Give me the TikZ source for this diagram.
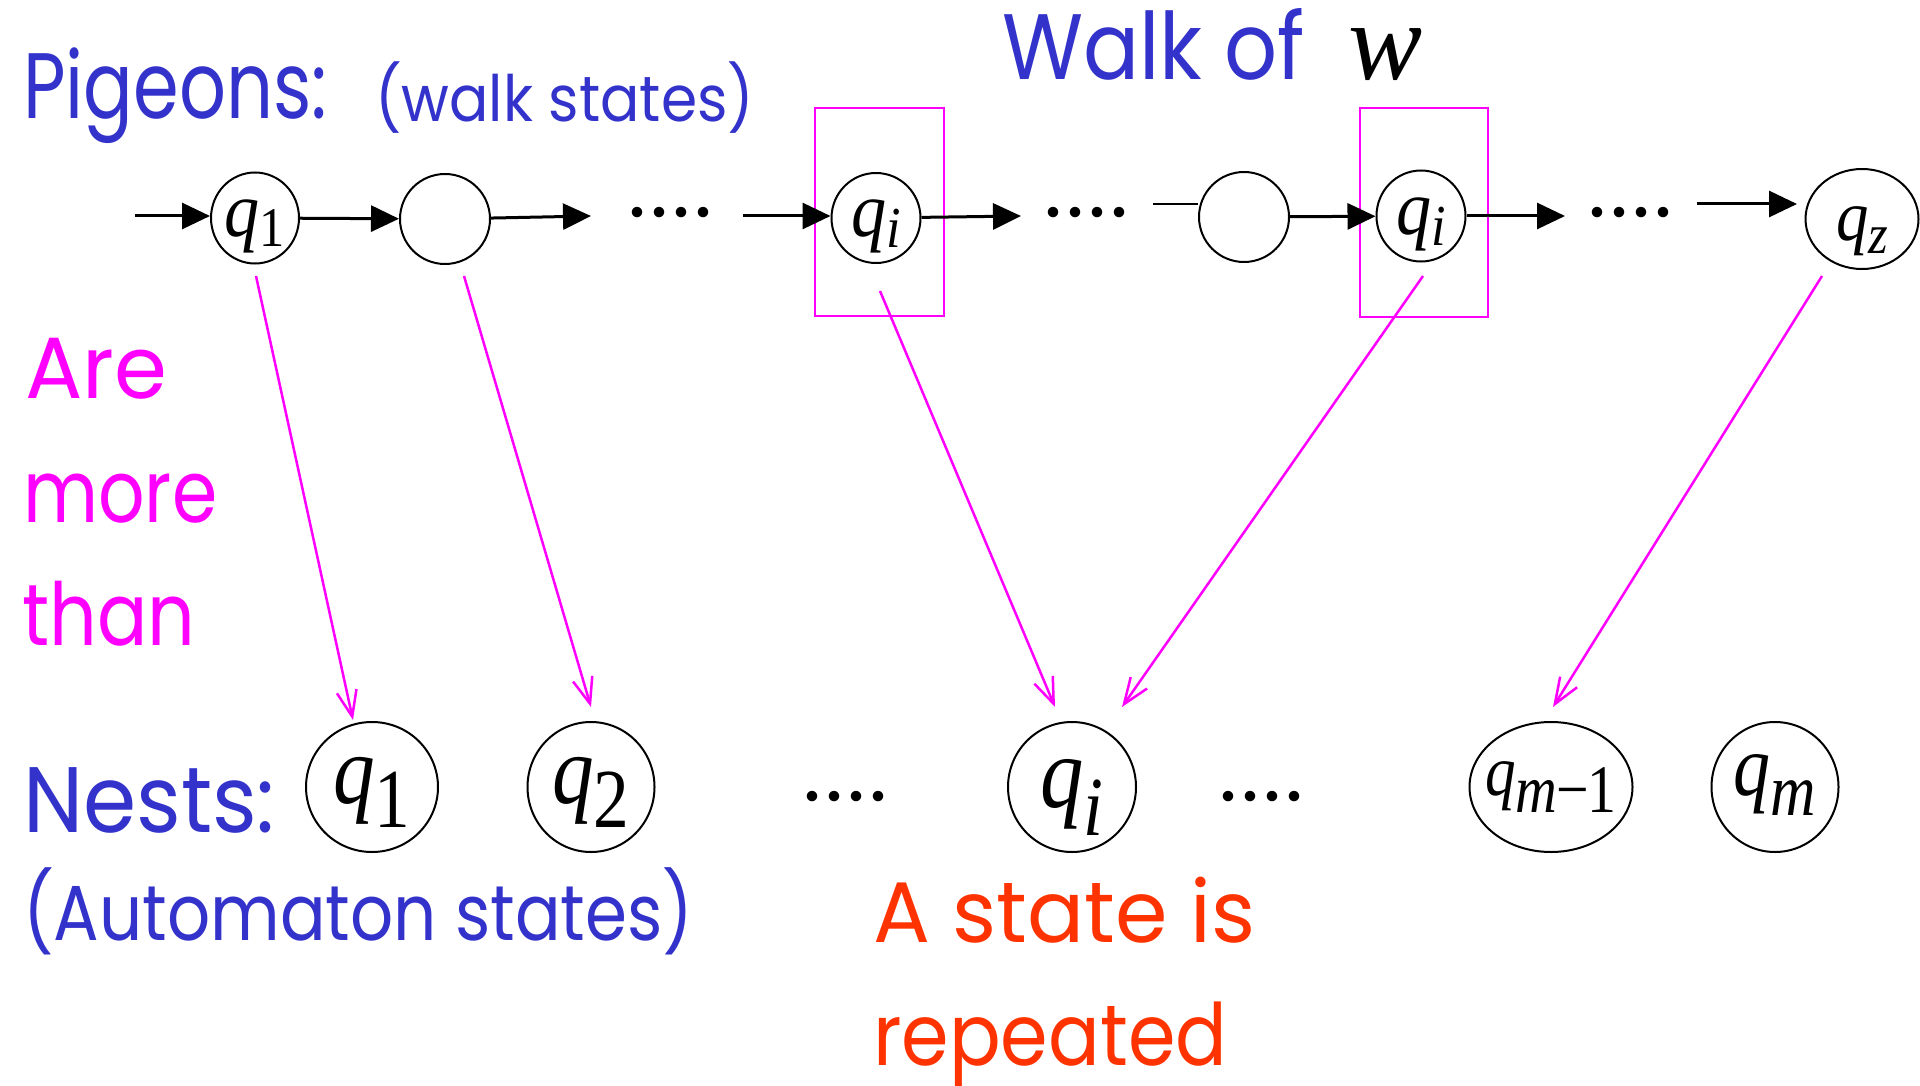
\documentclass[tikz,border=0pt]{standalone}
\usepackage{fontspec}
\usepackage{graphicx}
\usetikzlibrary{arrows.meta,shapes.geometric,calc}
\setmainfont{Poppins}
\newfontfamily\tms{Liberation Serif}
\definecolor{cblue}{RGB}{51,51,204}
\definecolor{cmag}{RGB}{255,0,255}
\definecolor{cred}{RGB}{255,51,0}
\newcommand\fitw[3]{\resizebox{#1}{\height}{\fontsize{#2}{#2}\selectfont #3}}
% #1 main size, #2 sub size, #3 sub, #4 sub shift, #5 baseline shift, #6 xscale
\newcommand\qlab[6]{\makebox[0pt]{\smash{\raisebox{#5}{\scalebox{#6}[1]{\tms\fontsize{#1}{#1}\selectfont\itshape q\raisebox{#4}{\fontsize{#2}{#2}\selectfont #3}}}}}}
\begin{document}
\begin{tikzpicture}[x=1pt,y=-1pt,
  st/.style={ellipse,draw,line width=2pt,inner sep=0pt},
  blk/.style={line width=3pt,-{Triangle[length=28pt,width=26pt]}},
  blkline/.style={line width=2.5pt},
  mag/.style={draw=cmag,line width=2.5pt,-{Straight Barb[length=26pt,width=20pt]}},
  magbox/.style={draw=cmag,line width=2.5pt,inner sep=0pt},
  txt/.style={anchor=base west,inner sep=0pt},
  dotrow/.style={inner sep=0pt,font=\tms\fontsize{88}{88}\selectfont}]
\useasboundingbox (0,0) rectangle (1920,1086);

% titles
\node[txt,text=cblue] (pg) at (23,119) {\fitw{304pt}{93}{Pigeons:}};
\node[txt,text=cblue] (ws) at (375,122) {\fitw{379pt}{64}{(walk states)}};
\node[txt,text=cblue] (wo) at (1002,80) {\fitw{303pt}{93}{Walk of}};
\node[txt] (w) at (1348,80) {\tms\itshape\fontsize{111}{111}\selectfont w};

% magenta boxes
\node[magbox,minimum width=129pt,minimum height=208pt] (b1) at (879.5,212) {};
\node[magbox,minimum width=128pt,minimum height=209pt] (b2) at (1424,212.5) {};

% top walk
\node[st,minimum width=88pt,minimum height=91pt] (t1) at (255,218) {\qlab{78}{56}{\upshape 1}{-10pt}{-19pt}{0.9}};
\node[st,minimum width=90pt,minimum height=90pt] (t2) at (445,219) {};
\node[st,minimum width=89pt,minimum height=90pt] (t3) at (876,218) {\qlab{78}{58}{i}{-11pt}{-19pt}{0.9}};
\node[st,minimum width=90pt,minimum height=90pt] (t4) at (1244,217) {};
\node[st,minimum width=89pt,minimum height=91pt] (t5) at (1421,216) {\qlab{78}{58}{i}{-11pt}{-19pt}{0.9}};
\node[st,minimum width=113pt,minimum height=100pt] (t6) at (1862,219) {\qlab{72}{56}{z}{-13pt}{-22pt}{0.9}};

\node[dotrow] (k1) at (670,213) {....};
\node[dotrow] (k2) at (1086,213) {....};
\node[dotrow] (k3) at (1630,213) {....};

\coordinate (c0) at (135,216);
\coordinate (d1) at (591,216);
\coordinate (c1) at (743,216);
\coordinate (d2) at (1021,216);
\coordinate (c2) at (1153,204);
\coordinate (d3) at (1565,216);
\coordinate (c3) at (1697,204);
\coordinate (d4) at (1797,204);

\draw[blk] (c0) -- (c0 -| t1.west);
\draw[blk] (t1) -- (t2);
\draw[blk] (t2) -- (d1);
\draw[blk] (c1) -- (c1 -| t3.west);
\draw[blk] (t3) -- (d2);
\draw[blkline] (c2) -- (c2 -| t4.west);
\draw[blk] (t4) -- (t5);
\draw[blk] (t5) -- (d3);
\draw[blk] (c3) -- (d4);

% left magenta text
\node[txt,text=cmag] (are) at (25,398) {\fitw{142pt}{87}{Are}};
\node[txt,text=cmag] (more) at (23,522) {\fitw{194pt}{87}{more}};
\node[txt,text=cmag] (than) at (22,645) {\fitw{173pt}{87}{than}};

% nests
\node[txt,text=cblue] (ns) at (23,832) {\fitw{252pt}{93}{Nests:}};
\node[txt,text=cblue] (as) at (23,940) {\fitw{670pt}{78}{(Automaton states)}};

\node[st,minimum width=132pt,minimum height=130pt] (n1) at (372,787) {\qlab{98}{84}{\upshape 1}{-24pt}{-16pt}{0.85}};
\node[st,minimum width=127pt,minimum height=130pt] (n2) at (591,787) {\qlab{98}{84}{\upshape 2}{-24pt}{-16pt}{0.85}};
\node[st,minimum width=128pt,minimum height=130pt] (n3) at (1072,787) {\qlab{102}{84}{i}{-28pt}{-20pt}{0.85}};
\node[st,minimum width=163pt,minimum height=130pt] (n4) at (1551,787) {\qlab{72}{68}{m\upshape\kern-2pt\textminus\kern-1pt 1}{-17pt}{-8pt}{0.85}};
\node[st,minimum width=127pt,minimum height=130pt] (n5) at (1775,787) {\qlab{87}{74}{m}{-20pt}{-8pt}{0.85}};

\node[dotrow] (k4) at (845,797) {....};
\node[dotrow] (k5) at (1261,797) {....};

% red text
\node[txt,text=cred] (rs) at (873,942) {\fitw{382pt}{86}{A state is}};
\node[txt,text=cred] (rp) at (873,1065) {\fitw{354pt}{86}{repeated}};

% magenta arrows
\coordinate (s1) at (256,276);
\coordinate (e1) at (353,720);
\coordinate (s2) at (464,276);
\coordinate (e2) at (591,707);
\coordinate (s3) at (880,291);
\coordinate (e3) at (1055,707);
\coordinate (s4) at (1423,276);
\coordinate (e4) at (1122,707);
\coordinate (s5) at (1822,276);
\coordinate (e5) at (1553,707);
\draw[mag] (s1) -- (e1);
\draw[mag] (s2) -- (e2);
\draw[mag] (s3) -- (e3);
\draw[mag] (s4) -- (e4);
\draw[mag] (s5) -- (e5);
\end{tikzpicture}
\end{document}
